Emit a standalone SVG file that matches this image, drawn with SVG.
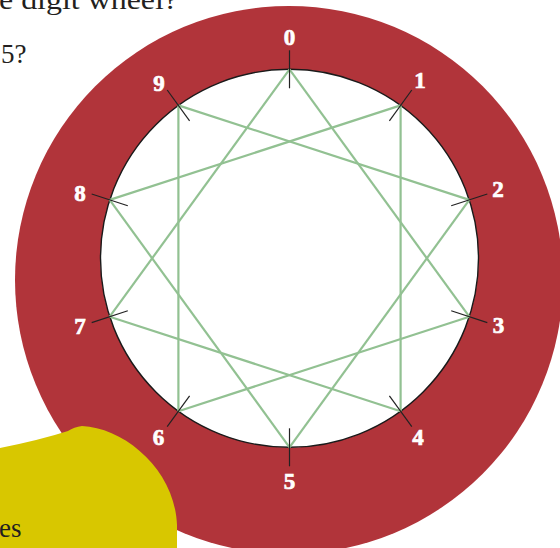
<svg xmlns="http://www.w3.org/2000/svg" width="560" height="548" viewBox="0 0 560 548">
<style>
.ring{fill:#b1343a}
.face{fill:#fff;stroke:#1a1a1a;stroke-width:1.4}
.edge{stroke:#92c192;stroke-width:2.2;fill:none}
.tick{stroke:#222;stroke-width:1.2}
.lbl{font-family:"Liberation Serif","DejaVu Serif",serif;font-weight:bold;font-size:23px;fill:#fff;stroke:#fff;stroke-width:0.7;text-anchor:middle}
.body{font-family:"Liberation Serif","DejaVu Serif",serif;font-size:27px;fill:#231f20}
.blob{fill:#d8c700}
</style>
<rect width="560" height="548" fill="#fff"/>
<text class="body" x="-1" y="9" textLength="179" lengthAdjust="spacingAndGlyphs">e digit wheel?</text>
<text class="body" x="1" y="63">5?</text>
<circle class="ring" cx="289" cy="280" r="274"/>
<circle class="face" cx="289.5" cy="258.3" r="189"/>
<g id="connectors">
<line class="edge" x1="289.5" y1="69.3" x2="469.3" y2="316.7"/>
<line class="edge" x1="469.3" y1="316.7" x2="178.4" y2="411.2"/>
<line class="edge" x1="178.4" y1="411.2" x2="178.4" y2="105.4"/>
<line class="edge" x1="178.4" y1="105.4" x2="469.3" y2="199.9"/>
<line class="edge" x1="469.3" y1="199.9" x2="289.5" y2="447.3"/>
<line class="edge" x1="289.5" y1="447.3" x2="109.7" y2="199.9"/>
<line class="edge" x1="109.7" y1="199.9" x2="400.6" y2="105.4"/>
<line class="edge" x1="400.6" y1="105.4" x2="400.6" y2="411.2"/>
<line class="edge" x1="400.6" y1="411.2" x2="109.7" y2="316.7"/>
<line class="edge" x1="109.7" y1="316.7" x2="289.5" y2="69.3"/>
</g>
<g id="n0"><line class="tick" x1="289.5" y1="88.3" x2="289.5" y2="50.3"/><text class="lbl" x="289.5" y="45">0</text></g>
<g id="n1"><line class="tick" x1="389.4" y1="120.8" x2="411.8" y2="90"/><text class="lbl" x="420" y="88">1</text></g>
<g id="n2"><line class="tick" x1="451.2" y1="205.8" x2="487.3" y2="194"/><text class="lbl" x="498" y="197">2</text></g>
<g id="n3"><line class="tick" x1="451.2" y1="310.8" x2="487.3" y2="322.6"/><text class="lbl" x="498.5" y="333">3</text></g>
<g id="n4"><line class="tick" x1="389.4" y1="395.8" x2="411.8" y2="426.6"/><text class="lbl" x="418" y="445">4</text></g>
<g id="n5"><line class="tick" x1="289.5" y1="428.3" x2="289.5" y2="466.3"/><text class="lbl" x="289.5" y="489">5</text></g>
<g id="n6"><line class="tick" x1="189.6" y1="395.8" x2="167.2" y2="426.6"/><text class="lbl" x="158.5" y="445">6</text></g>
<g id="n7"><line class="tick" x1="127.8" y1="310.8" x2="91.7" y2="322.6"/><text class="lbl" x="80" y="334">7</text></g>
<g id="n8"><line class="tick" x1="127.8" y1="205.8" x2="91.7" y2="194"/><text class="lbl" x="80" y="201">8</text></g>
<g id="n9"><line class="tick" x1="189.6" y1="120.8" x2="167.2" y2="90"/><text class="lbl" x="159" y="91">9</text></g>
<path class="blob" d="M0,448 Q40,440 68,431 Q74,427 82,426 C125,428 175,470 177,525 L177,548 L0,548 Z"/>
<text class="body" x="-1" y="537">es</text>
</svg>
